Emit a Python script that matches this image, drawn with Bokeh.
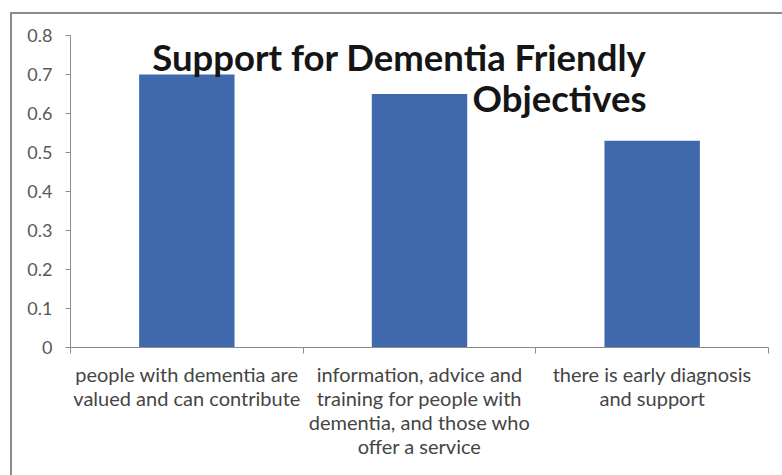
from bokeh.plotting import figure
from bokeh.models import FixedTicker, NumeralTickFormatter, Label, ColumnDataSource, Range1d
from bokeh.embed import file_html
from bokeh.resources import INLINE

categories = [
    "people with dementia are\nvalued and can contribute",
    "information, advice and\ntraining for people with\ndementia, and those who\noffer a service",
    "there is early diagnosis\nand support",
]
values = [0.70, 0.65, 0.53]
y_ticks = [0, 0.1, 0.2, 0.3, 0.4, 0.5, 0.6, 0.7, 0.8]
title_lines = ["Support for Dementia Friendly", "Objectives"]

FONT = "Lato"
BAR = "#4068AD"
GRAY = "#8c8c8c"

n = len(categories)
centers = [i + 0.5 for i in range(n)]
src = ColumnDataSource(dict(x=centers, top=values))

p = figure(width=772, height=463, output_backend="svg", toolbar_location=None,
           x_range=Range1d(0, n), y_range=Range1d(0, y_ticks[-1]),
           min_border_left=58, min_border_right=16, min_border_top=21, min_border_bottom=130)
p.margin = (12, 0, 0, 10)
p.styles = {"border-left": "2px solid #8c8c8c", "border-top": "2px solid #8c8c8c"}

p.vbar(x="x", top="top", width=0.41, source=src, fill_color=BAR, line_color=None)

p.xgrid.visible = False
p.ygrid.visible = False
p.outline_line_color = None
p.background_fill_color = "white"
p.border_fill_color = "white"

# y axis
p.yaxis.ticker = FixedTicker(ticks=y_ticks, minor_ticks=[])
p.yaxis.formatter = NumeralTickFormatter(format="0.[0]")
p.yaxis.axis_line_color = GRAY
p.yaxis.major_tick_line_color = GRAY
p.yaxis.major_tick_out = 5
p.yaxis.major_tick_in = 0
p.yaxis.major_label_standoff = 13
p.yaxis.major_label_text_font = FONT
p.yaxis.major_label_text_font_size = "18px"
p.yaxis.major_label_text_color = "#595959"

# x axis: ticks at category boundaries, labels at category centres
p.xaxis.ticker = FixedTicker(ticks=centers, minor_ticks=list(range(n + 1)))
p.xaxis.major_label_overrides = {c: lab for c, lab in zip(centers, categories)}
p.xaxis.axis_line_color = GRAY
p.xaxis.major_tick_line_color = None
p.xaxis.major_tick_out = 0
p.xaxis.major_tick_in = 0
p.xaxis.minor_tick_line_color = GRAY
p.xaxis.minor_tick_out = 6
p.xaxis.minor_tick_in = 0
p.xaxis.major_label_standoff = 8
p.xaxis.major_label_text_font = FONT
p.xaxis.major_label_text_font_size = "20px"
p.xaxis.major_label_text_color = "#454545"
p.xaxis.major_label_text_line_height = 1.0

# title
p.add_layout(Label(x=2.4756, y=0.746, text=title_lines[0], text_align="right",
                   text_baseline="alphabetic", text_font=FONT, text_font_style="bold",
                   text_font_size="36.5px", text_color="#151515"))
p.add_layout(Label(x=2.4756, y=0.639, text=title_lines[1], text_align="right",
                   text_baseline="alphabetic", text_font=FONT, text_font_style="bold",
                   text_font_size="36.5px", text_color="#151515"))

open("out.html", "w").write(file_html(p, INLINE))
